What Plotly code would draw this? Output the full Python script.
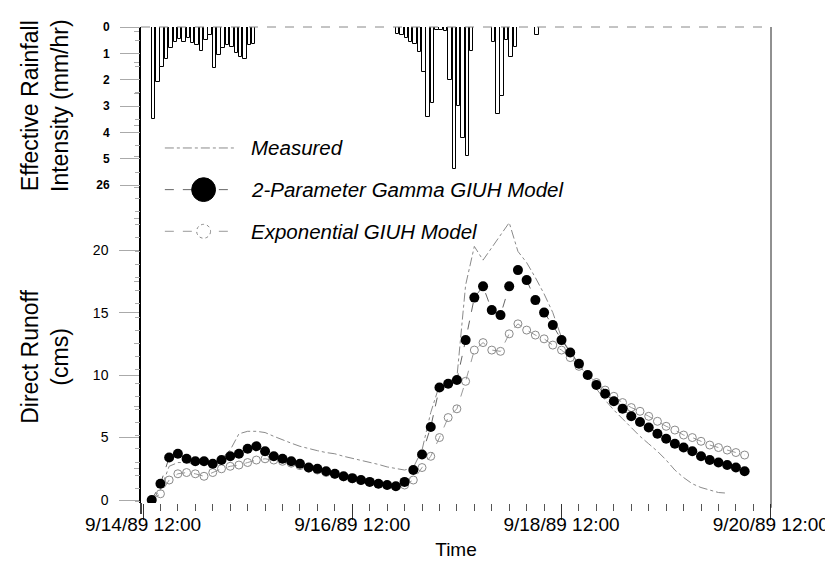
import plotly.graph_objects as go

# ---------------- data ----------------
# time axis: hours after 9/14/89 12:00
time_hours = [2, 4, 6, 8, 10, 12, 14, 16, 18, 20, 22, 24, 26, 28, 30, 32, 34, 36, 38, 40,
              42, 44, 46, 48, 50, 52, 54, 56, 58, 60, 62, 64, 66, 68, 70, 72, 74, 76, 78, 80,
              82, 84, 86, 88, 90, 92, 94, 96, 98, 100, 102, 104, 106, 108, 110, 112, 114, 116, 118, 120,
              122, 124, 126, 128, 130, 132, 134, 136, 138]

gamma_runoff = [0.0, 1.3, 3.4, 3.7, 3.3, 3.1, 3.1, 2.9, 3.2, 3.5,
                3.7, 4.1, 4.3, 3.9, 3.5, 3.3, 3.1, 2.9, 2.6, 2.5,
                2.3, 2.1, 1.9, 1.75, 1.6, 1.45, 1.3, 1.2, 1.1, 1.45,
                2.4, 3.65, 5.85, 9.0, 9.3, 9.6, 12.8, 16.2, 17.1, 15.2,
                14.8, 17.1, 18.4, 17.6, 16.0, 15.0, 14.0, 12.8, 11.8, 10.9,
                10.0, 9.2, 8.5, 7.9, 7.3, 6.7, 6.25, 5.8, 5.3, 4.9,
                4.5, 4.2, 3.9, 3.5, 3.2, 3.0, 2.8, 2.6, 2.3]

exponential_runoff = [0.0, 0.5, 1.6, 2.1, 2.2, 2.1, 1.9, 2.2, 2.5, 2.7,
                      2.8, 3.0, 3.2, 3.3, 3.2, 3.1, 2.95, 2.75, 2.55, 2.4,
                      2.2, 2.05, 1.85, 1.7, 1.55, 1.45, 1.3, 1.2, 1.1, 1.2,
                      1.6, 2.6, 3.5, 5.0, 6.6, 7.3, 9.5, 12.0, 12.6, 12.0,
                      11.9, 13.3, 14.1, 13.6, 13.2, 12.9, 12.4, 12.0, 11.4, 10.7,
                      10.0, 9.4, 8.8, 8.3, 7.8, 7.4, 7.1, 6.7, 6.3, 5.9,
                      5.6, 5.2, 5.0, 4.7, 4.4, 4.2, 4.0, 3.8, 3.6]

measured_hours = time_hours[:67]
measured_runoff = [0.0, 0.8, 2.7, 3.0, 3.0, 2.9, 2.9, 3.0, 3.3, 4.0,
                   5.3, 5.5, 5.5, 5.4, 5.1, 4.8, 4.55, 4.3, 4.1, 3.95,
                   3.8, 3.7, 3.5, 3.35, 3.2, 3.05, 2.85, 2.65, 2.5, 2.4,
                   2.6, 4.0, 7.0, 9.2, 9.5, 9.8, 17.2, 20.3, 19.2, 20.2,
                   21.2, 22.2, 19.9, 19.0, 17.8, 16.5, 15.0, 13.0, 11.8, 10.8,
                   9.8, 8.9, 8.0, 7.2, 6.5, 5.8, 5.1, 4.5, 3.9, 3.2,
                   2.4, 1.8, 1.3, 1.0, 0.8, 0.6, 0.55]

# effective rainfall (hour start, mm/hr)
rain_hours = [2, 3, 4, 5, 6, 7, 8, 9, 10, 11, 12, 13, 14, 15, 16, 17, 18, 19, 20, 21, 22, 23, 24, 25,
              58, 59, 60, 61, 62, 63, 64, 65, 66, 67, 68, 69, 70, 71, 72, 73, 74, 75,
              80, 81, 82, 83, 84, 85, 90]
rain_intensity = [3.5, 2.1, 1.5, 1.2, 0.8, 0.55, 0.45, 0.55, 0.4, 0.6, 0.7, 0.9, 0.5, 0.3,
                  1.55, 1.05, 0.8, 0.7, 0.75, 1.0, 1.15, 1.2, 0.7, 0.65,
                  0.25, 0.3, 0.4, 0.55, 0.65, 0.95, 1.7, 3.4, 2.9, 0.1, 0.1, 0.15, 2.0, 5.4,
                  3.0, 4.2, 4.9, 0.9,
                  0.55, 3.3, 2.6, 0.5, 1.15, 0.75, 0.3]

time_tick_hours = [0, 48, 96, 144]
time_tick_labels = ["9/14/89 12:00", "9/16/89 12:00", "9/18/89 12:00", "9/20/89 12:00"]
runoff_ticks = [0, 5, 10, 15, 20]
rain_ticks = [0, 1, 2, 3, 4, 5, 6]
rain_tick_labels = ["0", "1", "2", "3", "4", "5", "26"]

legend_names = ["Measured", "2-Parameter Gamma GIUH Model", "Exponential GIUH Model"]

# ---------------- figure ----------------
W, H = 833, 574
ML, MR, MT, MB = 133, 66, 15, 79
PW, PH = W - ML - MR, H - MT - MB
X_RANGE = [-0.46, 144.05]


def px_x(x):
    return (x - ML) / PW


def px_y(y):
    return (H - MB - y) / PH


fig = go.Figure()

fig.add_trace(go.Bar(
    x=rain_hours, y=rain_intensity, xaxis="x2", yaxis="y2", offset=0, width=0.8,
    marker=dict(color="white", line=dict(color="black", width=1)),
    showlegend=False, hoverinfo="skip"))

fig.add_trace(go.Scatter(
    x=measured_hours, y=measured_runoff, mode="lines",
    line=dict(color="#8a8a8a", width=1, dash="dashdot"), showlegend=False))

fig.add_trace(go.Scatter(
    x=time_hours, y=exponential_runoff, mode="lines+markers",
    line=dict(color="#9a9a9a", width=1, dash="dash"),
    marker=dict(symbol="circle-open", size=8, color="#8a8a8a", line=dict(width=1)),
    showlegend=False))

fig.add_trace(go.Scatter(
    x=time_hours, y=gamma_runoff, mode="lines+markers",
    line=dict(color="#666666", width=1, dash="dash"),
    marker=dict(symbol="circle", size=10, color="black"),
    showlegend=False))

tick_font = dict(family="Arial", size=14, color="black")

fig.update_layout(
    width=W, height=H,
    margin=dict(l=ML, r=MR, t=MT, b=MB),
    paper_bgcolor="white", plot_bgcolor="white",
    bargap=0,
    # tick marks only
    xaxis=dict(
        range=X_RANGE, tickmode="array", tickvals=time_tick_hours,
        ticks="outside", ticklen=16, tickcolor="#333", tickwidth=1, showticklabels=False,
        showline=False, showgrid=False, zeroline=False,
        minor=dict(tickmode="linear", tick0=0, dtick=4, ticks="outside", ticklen=7,
                   tickcolor="#555", tickwidth=1, showgrid=False),
    ),
    # tick labels and title
    xaxis2=dict(
        range=X_RANGE, overlaying="x", anchor="y", side="bottom",
        tickmode="array", tickvals=time_tick_hours, ticktext=time_tick_labels,
        ticks="", ticklabelstandoff=8,
        showline=False, showgrid=False, zeroline=False,
        tickfont=dict(family="Arial", size=19, color="black"),
        title=dict(text="Time", font=dict(family="Arial", size=19, color="black"), standoff=8),
    ),
    yaxis=dict(
        range=[-0.238, 37.857], tickmode="array", tickvals=runoff_ticks,
        ticks="outside", ticklen=20, tickcolor="#aaaaaa", tickwidth=1, ticklabelstandoff=8,
        showline=True, linecolor="black", linewidth=1.5,
        showgrid=False, zeroline=False, tickfont=tick_font,
        minor=dict(tickmode="linear", tick0=0, dtick=2.5, ticks="outside", ticklen=5,
                   tickcolor="#aaaaaa", showgrid=False),
    ),
    yaxis2=dict(
        range=[18.05, 0], overlaying="y", side="left", anchor="x2",
        tickmode="array", tickvals=rain_ticks, ticktext=rain_tick_labels,
        ticks="outside", ticklen=20, tickcolor="#aaaaaa", tickwidth=1, ticklabelstandoff=8,
        showline=False, showgrid=False, zeroline=False,
        tickfont=dict(family="Arial", size=12, color="black", weight="bold"),
        minor=dict(tickmode="linear", tick0=0, dtick=0.5, ticks="outside", ticklen=5,
                   tickcolor="#aaaaaa", showgrid=False),
    ),
)

shapes = [
    # right frame, dashed top frame, left axis overhang
    dict(type="line", xref="paper", yref="paper", x0=1, x1=1, y0=-0.01, y1=1,
         line=dict(color="#222", width=1)),
    dict(type="line", xref="paper", yref="paper", x0=0, x1=1, y0=1, y1=1,
         line=dict(color="#888", width=1, dash="dash")),
    dict(type="line", xref="paper", yref="paper", x0=0, x1=0, y0=px_y(506), y1=0,
         line=dict(color="black", width=1.5)),
    # legend: measured
    dict(type="line", xref="paper", yref="paper", x0=px_x(157), x1=px_x(228), y0=px_y(137), y1=px_y(137),
         line=dict(color="#8a8a8a", width=1, dash="dashdot")),
    # legend: gamma
    dict(type="line", xref="paper", yref="paper", x0=px_x(157), x1=px_x(228), y0=px_y(179), y1=px_y(179),
         line=dict(color="#666", width=1, dash="dash")),
    dict(type="circle", xref="paper", yref="paper", x0=px_x(184), x1=px_x(208), y0=px_y(191), y1=px_y(167),
         fillcolor="black", line=dict(color="black", width=1)),
    # legend: exponential
    dict(type="line", xref="paper", yref="paper", x0=px_x(157), x1=px_x(228), y0=px_y(221), y1=px_y(221),
         line=dict(color="#9a9a9a", width=1, dash="dash")),
    dict(type="circle", xref="paper", yref="paper", x0=px_x(189), x1=px_x(203), y0=px_y(228), y1=px_y(214),
         fillcolor="white", line=dict(color="#8a8a8a", width=1, dash="dot")),
]
fig.update_layout(shapes=shapes)

legend_font = dict(family="Arial", size=20.5, color="black", style="italic")
annotations = []
for name, py in zip(legend_names, [137, 179, 221]):
    annotations.append(dict(xref="paper", yref="paper", x=px_x(242), y=px_y(py), text=name,
                            showarrow=False, xanchor="left", yanchor="middle", font=legend_font))

title_font = dict(family="Arial", size=23, color="black")
annotations.append(dict(xref="paper", yref="paper", x=px_x(37), y=px_y(94),
                        text="Effective Rainfall<br>Intensity (mm/hr)", textangle=-90,
                        showarrow=False, xanchor="center", yanchor="middle", font=title_font))
annotations.append(dict(xref="paper", yref="paper", x=px_x(37), y=px_y(348),
                        text="Direct Runoff<br>(cms)", textangle=-90,
                        showarrow=False, xanchor="center", yanchor="middle", font=title_font))
fig.update_layout(annotations=annotations)

fig.write_html("out.html")
